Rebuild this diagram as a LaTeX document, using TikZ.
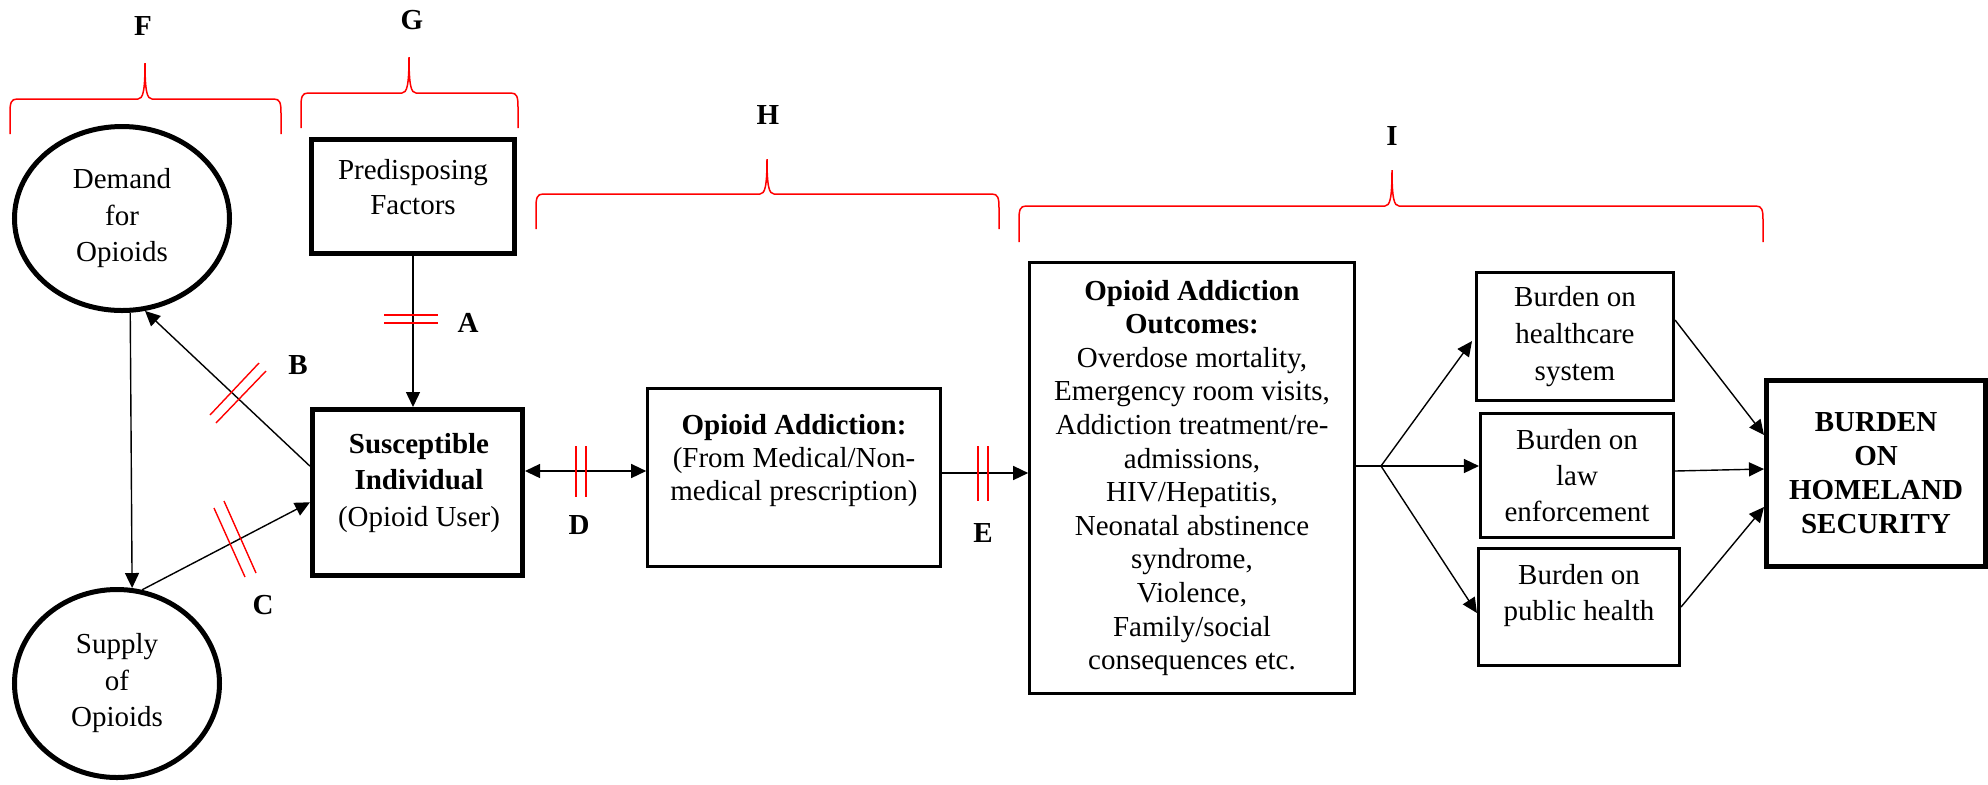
\documentclass[tikz,border=0pt]{standalone}
\usepackage{fontspec}
\setmainfont{Liberation Serif}
\usetikzlibrary{shapes.geometric,arrows.meta,calc}
\newcommand\mybrace[6]{%
  \draw[bracest] (#1,#6) -- (#1,{#4+14}) .. controls (#1,{#4+4}) and ({#1+1},#4) .. ({#1+7},#4)
    -- ({#3-7},#4) .. controls ({#3-2},#4) and (#3,{#4-8}) .. (#3,#5)
    .. controls (#3,{#4-8}) and ({#3+2},#4) .. ({#3+7},#4)
    -- ({#2-7},#4) .. controls ({#2-1},#4) and (#2,{#4+4}) .. (#2,{#4+14}) -- (#2,#6);}
\begin{document}
\begin{tikzpicture}[x=0.5pt,y=-0.5pt,
  bubble/.style={ellipse, draw, line width=2.5pt, inner sep=0pt, align=center,
    font=\fontsize{14.5}{18.25}\selectfont},
  boldbox/.style={rectangle, draw, line width=2.5pt, inner sep=0pt, align=center,
    font=\fontsize{14.5}{17.5}\selectfont},
  thinbox/.style={rectangle, draw, line width=1.3pt, inner sep=0pt, align=center,
    font=\fontsize{14.5}{18}\selectfont},
  txt/.style={inner sep=0pt, align=center, font=\fontsize{14.5}{17.5}\selectfont},
  lbl/.style={inner sep=0pt, font=\fontsize{14.5}{17}\selectfont\bfseries},
  conn/.style={line width=0.7pt, -{Triangle[length=7.5pt,width=7pt]}},
  dconn/.style={line width=0.7pt, {Triangle[length=7.5pt,width=7pt]}-{Triangle[length=7.5pt,width=7pt]}},
  plainln/.style={line width=0.7pt},
  tickln/.style={red, line width=0.7pt},
  bracest/.style={red, line width=0.75pt}]
\useasboundingbox (0,0) rectangle (1988,784);

% nodes
\node[bubble, minimum width=107.5pt, minimum height=92pt] (demand) at (122,218.5) {Demand\\for\\Opioids};
\node[bubble, minimum width=102.5pt, minimum height=94pt] (supply) at (117,683.5) {Supply\\of\\Opioids};
\node[boldbox, minimum width=101.5pt, minimum height=57pt] (pre) at (413,196.5) {};
\node[txt] (pretxt) at (413,187) {Predisposing\\Factors};
\node[boldbox, minimum width=105pt, minimum height=83pt] (sus) at (417.5,492.5) {};
\node[txt, font=\fontsize{14.5}{18.25}\selectfont] (sustxt) at (419,483) {\textbf{Susceptible}\\\textbf{Individual}\\(Opioid User)};
\node[thinbox, minimum width=146.5pt, minimum height=89pt] (add) at (794,477.5) {};
\node[txt, font=\fontsize{14.5}{16.5}\selectfont] (addtxt) at (794,461) {\textbf{Opioid Addiction:}\\(From Medical/Non-\\medical prescription)};
\node[thinbox, minimum width=162.5pt, minimum height=215.5pt, font=\fontsize{14.5}{16.8}\selectfont] (out) at (1192,478)
  {\textbf{Opioid Addiction}\\\textbf{Outcomes:}\\Overdose mortality,\\Emergency room visits,\\Addiction treatment/re-\\admissions,\\HIV/Hepatitis,\\Neonatal abstinence\\syndrome,\\Violence,\\Family/social\\consequences etc.};
\node[thinbox, minimum width=98.75pt, minimum height=64.25pt, font=\fontsize{14.5}{18.5}\selectfont] (hc) at (1575,336.5) {Burden on\\healthcare\\system};
\node[thinbox, minimum width=96.75pt, minimum height=62.25pt] (law) at (1577,475.5) {Burden on\\law\\enforcement};
\node[thinbox, minimum width=100.75pt, minimum height=58.75pt] (pub) at (1579,607) {};
\node[txt, font=\fontsize{14.5}{18}\selectfont] (pubtxt) at (1579,596) {Burden on\\public health};
\node[boldbox, minimum width=109.5pt, minimum height=93pt, font=\fontsize{14.5}{17}\selectfont\bfseries] (home) at (1876,473.5) {BURDEN\\ON\\HOMELAND\\SECURITY};

% labels
\node[lbl] (labF) at (143,26) {F};
\node[lbl] (labG) at (412,20) {G};
\node[lbl] (labH) at (768,115) {H};
\node[lbl] (labI) at (1392,136) {I};
\node[lbl] (labA) at (468,323) {A};
\node[lbl] (labB) at (298,365) {B};
\node[lbl] (labC) at (263,605) {C};
\node[lbl] (labD) at (579,525) {D};
\node[lbl] (labE) at (983,533) {E};

% braces
\mybrace{10}{281}{145}{99}{63}{134}
\mybrace{301}{518}{409}{93}{57}{128}
\mybrace{536}{999}{767}{194}{159}{229}
\mybrace{1019}{1763}{1392}{206}{170}{242}

% connectors
\draw[conn] (pre.south) -- (pre.south |- sus.north);
\draw[conn] ($(sus.north west)!0.346!(sus.south west)$) -- (demand.-76);
\draw[conn] (supply.75) -- ($(sus.north west)!0.557!(sus.south west)$);
\draw[conn] (demand.-85) -- (supply.81);
\draw[dconn] (sus.east |- 0,471) -- (add.west |- 0,471);
\draw[conn] (add.east |- 0,473) -- (out.west |- 0,473);
\coordinate (fan) at (1381,466);
\draw[plainln] (out.east |- fan) -- (fan);
\draw[conn, shorten >=2.5pt] (fan) -- (hc.west |- 0,337);
\draw[conn] (fan) -- (law.west |- fan);
\draw[conn] (fan) -- (pub.west |- 0,613);
\draw[conn] (hc.east |- 0,320) -- (home.west |- 0,435);
\draw[conn] (law.east |- 0,471) -- (home.west |- 0,469);
\draw[conn] (pub.east |- 0,607) -- (home.west |- 0,507);

% red double ticks
\draw[tickln] (384,315) -- (438,315) (384,323) -- (438,323);
\draw[tickln] (210,415) -- (259,363) (216,423) -- (266,371);
\draw[tickln] (214,508) -- (245,577) (224,501) -- (256,573);
\draw[tickln] (576,446) -- (576,497) (586,446) -- (586,497);
\draw[tickln] (978,446) -- (978,501) (988,446) -- (988,501);
\end{tikzpicture}
\end{document}
